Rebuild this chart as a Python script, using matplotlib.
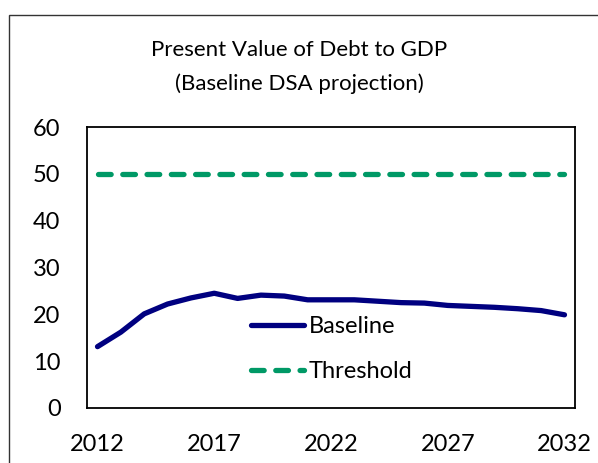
import matplotlib
matplotlib.use("Agg")
import matplotlib.pyplot as plt
from matplotlib.patches import Rectangle

years = list(range(2012, 2033))
baseline = [13.1, 16.2, 20.1, 22.2, 23.5, 24.5, 23.4, 24.1, 23.9, 23.1, 23.1,
            23.1, 22.8, 22.5, 22.4, 21.9, 21.7, 21.5, 21.2, 20.8, 19.9]
threshold = [50] * len(years)
year_ticks = [2012, 2017, 2022, 2027, 2032]
y_ticks = [0, 10, 20, 30, 40, 50, 60]

plt.rcParams['font.family'] = ['Lato', 'DejaVu Sans']

fig = plt.figure(figsize=(5.98, 4.63), dpi=100)
ax = fig.add_axes([87 / 598, 1 - 408 / 463, 488 / 598, 281 / 463])

ax.plot(years, baseline, color='#000080', lw=3.8, solid_capstyle='round',
        solid_joinstyle='round', label='Baseline')
ax.plot(years, threshold, color='#009966', lw=3.8, dashes=(2.4, 2.2),
        dash_capstyle='round', label='Threshold')

ax.set_xlim(2011.55, 2032.45)
ax.set_ylim(0, 60)
ax.set_xticks(year_ticks)
ax.set_yticks(y_ticks)
ax.tick_params(length=0, labelsize=17, colors='black')
ax.tick_params(axis='y', pad=19)
ax.tick_params(axis='x', pad=19)
for s in ax.spines.values():
    s.set_linewidth(1.3)
    s.set_color('black')

ax.legend(loc='upper left', bbox_to_anchor=(0.316, 0.36), frameon=False,
          fontsize=17, handlelength=2.25, handletextpad=0.2, labelspacing=1.02,
          borderaxespad=0)

fig.text(0.5, 1 - 67 / 463, 'Present Value of Debt to GDP\n(Baseline DSA projection)',
         ha='center', va='center', fontsize=16, linespacing=1.75)

fig.patches.append(Rectangle((9 / 598, -0.05), 1.0, 1 - 15 / 463 + 0.05,
                             transform=fig.transFigure, fill=False,
                             edgecolor='#333333', lw=1.0, clip_on=False))

fig.savefig('out.png', dpi=100)
